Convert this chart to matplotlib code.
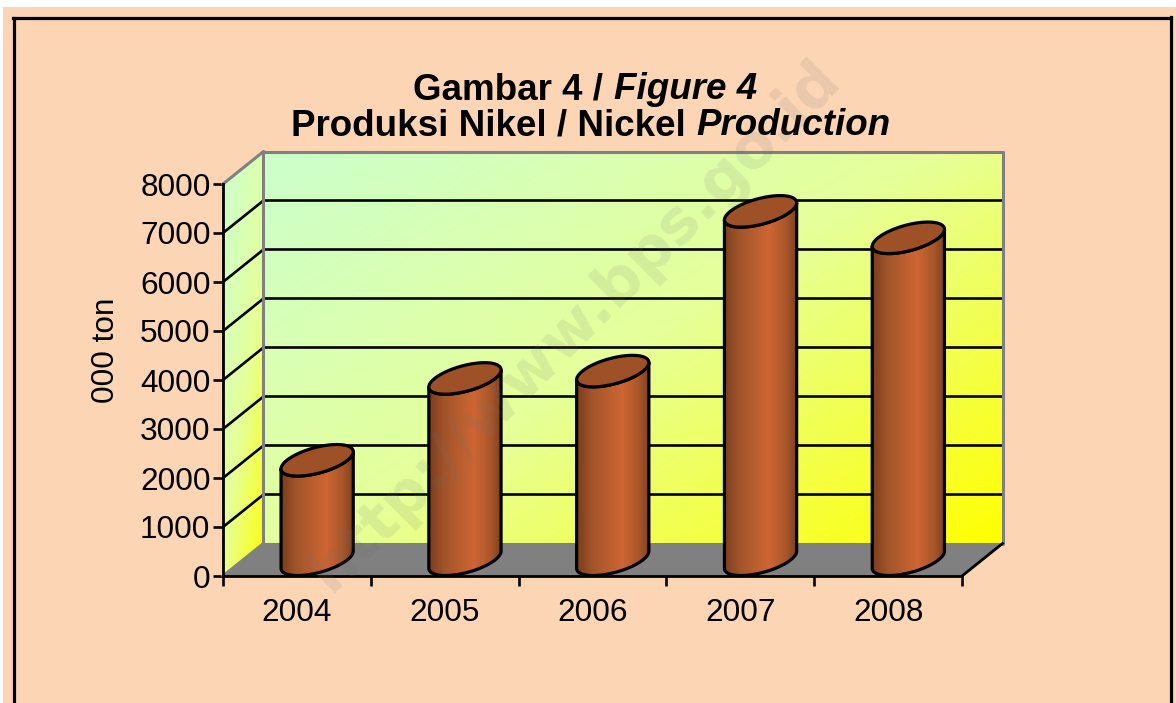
import numpy as np
import matplotlib
matplotlib.use("Agg")
import matplotlib.pyplot as plt
from matplotlib.colors import LinearSegmentedColormap
from matplotlib.lines import Line2D
from matplotlib.patches import Polygon, Rectangle

years = ["2004", "2005", "2006", "2007", "2008"]
production = [2030, 3700, 3850, 7110, 6570]
y_ticks = [0, 1000, 2000, 3000, 4000, 5000, 6000, 7000, 8000]

W, H = 1176, 703
PEACH = "#FCD5B5"
GREY = "#808080"
FONT = "Liberation Sans"
plt.rcParams["font.family"] = FONT

fig = plt.figure(figsize=(W / 100, H / 100), dpi=100, facecolor="white")


def fx(px):
    return px / W


def fy(px):
    return 1 - px / H


fig.add_artist(Rectangle((fx(3), 0), 1 - fx(3), fy(7), transform=fig.transFigure,
                         facecolor=PEACH, edgecolor="none", zorder=-5))
for xs, ys in [((13.5, 13.5), (H + 5, 17.5)), ((13, 1171), (17.5, 17.5)), ((1171, 1171), (17, H + 5))]:
    fig.add_artist(Line2D([fx(v) for v in xs], [fy(v) for v in ys], color="black",
                          lw=2.3, transform=fig.transFigure, zorder=-4))

ax = fig.add_axes([fx(223), fy(576), fx(962) - fx(223), fy(184) - fy(576)])
ax.patch.set_visible(False)
n = len(years)
ymax = y_ticks[-1]
DX = 40.5 / ((962 - 223) / n)
DY = 32.5 / (392 / ymax)

wall_cmap = LinearSegmentedColormap.from_list("wall", ["#CCFFCC", "#E6FF99", "#FFFF00"])
bar_cmap = LinearSegmentedColormap.from_list(
    "bar", [(0, "#7A3C1C"), (0.2, "#A0542A"), (0.62, "#CE6633"), (0.85, "#A8562A"), (1, "#7E3F1E")])


def gradient_image(grid, cmap, x0, x1, y0, y1, clip_pts, z):
    im = ax.imshow(grid, cmap=cmap, vmin=0, vmax=1, extent=(x0, x1, y0, y1), origin="upper",
                   aspect="auto", interpolation="bilinear", zorder=z)
    clip = Polygon(clip_pts, closed=True, transform=ax.transData)
    im.set_clip_box(fig.bbox)
    im.set_clip_path(clip)


u = np.linspace(0, 1, 200)
v = np.linspace(0, 1, 120)
U, V = np.meshgrid(u, v)
diag = np.clip(U * 0.55 + V * 0.45, 0, 1)

# back wall
gradient_image(diag, wall_cmap, DX, n + DX, DY, ymax + DY,
               [(DX, DY), (n + DX, DY), (n + DX, ymax + DY), (DX, ymax + DY)], 1)
# side wall
side = np.clip((U * 40 + V * 60) / 100, 0, 1) ** 1.2
gradient_image(side, wall_cmap, 0, DX, 0, ymax + DY,
               [(0, 0), (DX, DY), (DX, ymax + DY), (0, ymax)], 1)
# floor
ax.add_patch(Polygon([(0, 0), (n, 0), (n + DX, DY), (DX, DY)], closed=True, facecolor=GREY,
                     edgecolor="none", zorder=1.5, clip_on=False))
# grid
for t in y_ticks[1:-1]:
    ax.plot([0, DX, n + DX], [t, t + DY, t + DY], color="black", lw=1.9, zorder=2, clip_on=False,
            solid_capstyle="butt")
# wall edges
ax.plot([0, DX, DX], [ymax, ymax + DY, DY], color=GREY, lw=2.2, zorder=2.2, clip_on=False)
ax.plot([DX, n + DX, n + DX, DX], [ymax + DY, ymax + DY, DY, DY], color=GREY, lw=2.2, zorder=2.2, clip_on=False)
ax.plot([0, DX], [0, DY], color=GREY, lw=2.2, zorder=2.2, clip_on=False)
ax.plot([n, n + DX], [0, DY], color="black", lw=2.0, zorder=2.3, clip_on=False)

# cylinders
A = 30.3 / ((962 - 223) / n)
R = 0.485
t0 = np.arctan2(DX * R, A)
half_x = np.hypot(A, DX * R)


def ring(cx, cy, t):
    return np.column_stack([cx + A * np.cos(t) + DX * R * np.sin(t), cy + DY * R * np.sin(t)])


bar_grad = np.linspace(0, 1, 256)[None, :]
for i, val in enumerate(production):
    cx = i + 0.5 + DX / 2
    base = ring(cx, DY / 2, np.linspace(t0, t0 - np.pi, 80))
    top_low = ring(cx, val + DY / 2, np.linspace(t0 - np.pi, t0, 80))
    body = np.vstack([base, top_low])
    gradient_image(bar_grad, bar_cmap, cx - half_x, cx + half_x, 0, val + DY, body, 3)
    ax.add_patch(Polygon(body, closed=True, facecolor="none", edgecolor="black", lw=2.3, zorder=3.2,
                         clip_on=False, joinstyle="round"))
    ax.add_patch(Polygon(ring(cx, val + DY / 2, np.linspace(0, 2 * np.pi, 160)), closed=True,
                         facecolor="#9E5026", edgecolor="black", lw=2.3, zorder=3.3, clip_on=False))

ax.set_xlim(0, n)
ax.set_ylim(0, ymax)
for s in ("top", "right"):
    ax.spines[s].set_visible(False)
for s in ("left", "bottom"):
    ax.spines[s].set_linewidth(2.0)
    ax.spines[s].set_zorder(4)
ax.set_yticks(y_ticks)
ax.set_xticks(np.arange(n + 1))
ax.set_xticklabels([])
ax.set_xticks(np.arange(n) + 0.5, labels=years, minor=True)
ax.tick_params(axis="x", which="major", length=7, width=1.9)
ax.tick_params(axis="x", which="minor", length=0, pad=16, labelsize=22.7)
ax.tick_params(axis="y", which="major", length=7, width=1.9, pad=2, labelsize=22.7)
ax.set_ylabel("000 ton", fontsize=22.7)
ax.yaxis.set_label_coords((121 - 223) / 739, 0.5 + (380 - 350.5) / 392)

# title with mixed roman and italic runs
renderer = fig.canvas.get_renderer()


def mixed_line(parts, centre_px, base_px, size):
    artists = [fig.text(0, fy(base_px), s, fontsize=size, fontweight="bold", fontstyle=st, va="baseline", color="black")
               for s, st in parts]
    widths = []
    for a, (s, st) in zip(artists, parts):
        a.set_text("|" + s + "|")
        w2 = a.get_window_extent(renderer).width
        a.set_text("||")
        w0 = a.get_window_extent(renderer).width
        a.set_text(s)
        widths.append(w2 - w0)
    x = centre_px - sum(widths) / 2
    for a, w in zip(artists, widths):
        a.set_x(fx(x))
        x += w


mixed_line([("Gambar 4 / ", "normal"), ("Figure 4", "italic")], 585, 99, 26.5)
mixed_line([("Produksi Nikel / Nickel ", "normal"), ("Production", "italic")], 590.5, 135, 26.5)

# watermark
fig.text(fx(575), fy(325), "http://www.bps.go.id", family="DejaVu Sans", fontsize=44, fontweight="bold",
         rotation=45, rotation_mode="anchor", ha="center", va="center", color="#707070", alpha=0.13, zorder=10)

fig.savefig("out.png", dpi=100, facecolor=fig.get_facecolor())
